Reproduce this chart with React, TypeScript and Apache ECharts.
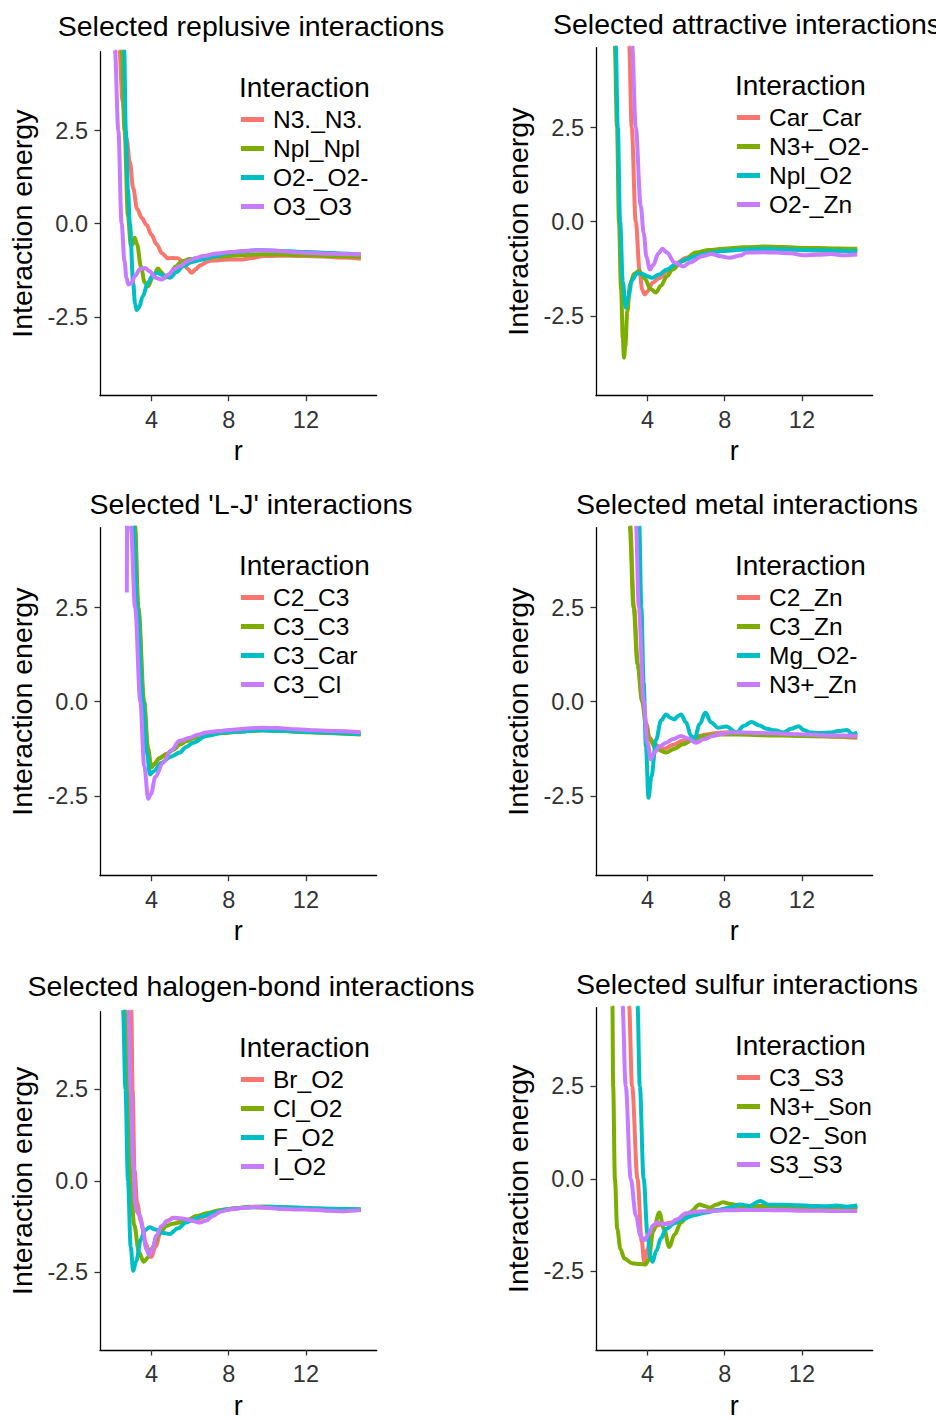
import React, { useEffect, useRef } from "react";
import * as echarts from "echarts";

const COLORS = ["#F8766D", "#7CAE00", "#00BFC4", "#C77CFF"];
const FONT = '"Liberation Sans", Arial, Helvetica, sans-serif';

const panelTitles = [
  "Selected replusive interactions",
  "Selected attractive interactions",
  "Selected 'L-J' interactions",
  "Selected metal interactions",
  "Selected halogen-bond interactions",
  "Selected sulfur interactions",
];
const panelNames = [
  ["N3._N3.", "Npl_Npl", "O2-_O2-", "O3_O3"],
  ["Car_Car", "N3+_O2-", "Npl_O2", "O2-_Zn"],
  ["C2_C3", "C3_C3", "C3_Car", "C3_Cl"],
  ["C2_Zn", "C3_Zn", "Mg_O2-", "N3+_Zn"],
  ["Br_O2", "Cl_O2", "F_O2", "I_O2"],
  ["C3_S3", "N3+_Son", "O2-_Son", "S3_S3"],
];
const xTicks = [4, 8, 12];
const yTicks = [-2.5, 0, 2.5];
const legendTitle = "Interaction";
const xName = "r";
const yName = "Interaction energy";

// Panel 1: replusive
const repN3 = [[2.25,6.5],[2.33,4.7],[2.5,3.3],[2.7,2.3],[2.88,1.65],[3.05,0.95],[3.25,0.4],[3.5,0.15],[3.74,-0.03],[4.0,-0.3],[4.26,-0.55],[4.55,-0.8],[4.86,-0.93],[5.1,-0.92],[5.35,-0.93],[5.64,-1.02],[5.85,-1.2],[6.07,-1.32],[6.3,-1.22],[6.5,-1.12],[7.0,-1.0],[7.5,-0.98],[8.0,-0.96],[8.7,-0.96],[9.2,-0.92],[9.8,-0.87],[10.5,-0.86],[11.2,-0.86],[12.0,-0.87],[12.9,-0.88],[13.8,-0.91],[14.85,-0.94]];
const repNpl = [[2.38,6.5],[2.46,4.7],[2.6,2.5],[2.78,0.2],[2.93,-0.6],[3.02,-0.55],[3.13,-0.38],[3.25,-0.55],[3.45,-1.15],[3.65,-1.58],[3.83,-1.68],[4.05,-1.45],[4.34,-1.2],[4.5,-1.3],[4.69,-1.45],[4.95,-1.35],[5.25,-1.15],[5.55,-1.02],[6.0,-0.95],[6.67,-0.92],[7.4,-0.89],[8.2,-0.86],[9.0,-0.84],[9.8,-0.82],[10.6,-0.83],[11.5,-0.84],[12.4,-0.85],[13.3,-0.87],[14.85,-0.89]];
const repO2 = [[2.5,6.5],[2.58,4.7],[2.67,2.5],[2.78,0.9],[2.88,0.0],[3.05,-1.6],[3.15,-2.15],[3.23,-2.32],[3.35,-2.25],[3.55,-1.95],[3.8,-1.6],[4.05,-1.4],[4.26,-1.32],[4.6,-1.38],[4.95,-1.45],[5.3,-1.3],[5.64,-1.14],[6.1,-1.03],[6.67,-0.96],[7.3,-0.87],[8.04,-0.78],[8.8,-0.74],[9.42,-0.71],[10.2,-0.72],[11.14,-0.74],[12.0,-0.76],[12.86,-0.78],[13.8,-0.8],[14.85,-0.83]];
const repO3 = [[2.0,6.5],[2.1,4.7],[2.28,2.5],[2.45,0.0],[2.6,-1.0],[2.7,-1.45],[2.8,-1.63],[2.95,-1.6],[3.15,-1.4],[3.4,-1.22],[3.66,-1.19],[3.9,-1.28],[4.2,-1.45],[4.52,-1.5],[4.85,-1.38],[5.15,-1.23],[5.46,-1.14],[5.9,-1.0],[6.3,-0.92],[6.67,-0.87],[7.4,-0.8],[8.1,-0.76],[8.8,-0.73],[9.77,-0.71],[10.6,-0.73],[11.49,-0.77],[12.4,-0.79],[13.4,-0.81],[14.85,-0.83]];

// Panel 2: attractive
const attCar = [[2.98,6.5],[3.05,4.7],[3.18,2.5],[3.39,0.0],[3.6,-1.35],[3.72,-1.8],[3.85,-1.93],[4.0,-1.85],[4.26,-1.62],[4.6,-1.5],[5.0,-1.32],[5.5,-1.1],[6.0,-0.96],[6.5,-0.88],[7.04,-0.82],[8.0,-0.76],[8.78,-0.73],[9.6,-0.72],[10.5,-0.73],[11.4,-0.74],[12.26,-0.76],[13.2,-0.77],[14.0,-0.77],[14.87,-0.78]];
const attN3O2 = [[2.22,6.5],[2.3,4.7],[2.42,2.5],[2.52,0.0],[2.63,-1.8],[2.72,-3.1],[2.78,-3.61],[2.85,-3.3],[2.95,-2.4],[3.1,-1.65],[3.3,-1.38],[3.57,-1.31],[3.85,-1.5],[4.15,-1.78],[4.43,-1.88],[4.7,-1.7],[5.0,-1.45],[5.3,-1.27],[5.8,-1.05],[6.52,-0.82],[7.2,-0.75],[7.91,-0.72],[9.0,-0.68],[10.0,-0.66],[11.0,-0.67],[11.74,-0.69],[12.8,-0.7],[13.8,-0.71],[14.87,-0.72]];
const attNplO2 = [[2.27,6.5],[2.35,4.7],[2.46,2.5],[2.58,0.0],[2.72,-1.6],[2.87,-2.28],[3.0,-2.0],[3.2,-1.55],[3.45,-1.37],[3.7,-1.38],[4.0,-1.45],[4.26,-1.49],[4.6,-1.4],[5.0,-1.27],[5.5,-1.12],[6.0,-1.0],[6.52,-0.91],[7.2,-0.83],[7.91,-0.78],[9.0,-0.74],[10.0,-0.72],[11.0,-0.73],[12.26,-0.75],[13.2,-0.76],[14.0,-0.77],[14.87,-0.78]];
const attO2Zn = [[3.12,6.5],[3.2,4.7],[3.39,2.5],[3.65,0.42],[3.8,-0.3],[3.95,-0.95],[4.12,-1.27],[4.3,-1.15],[4.55,-0.85],[4.78,-0.72],[5.0,-0.82],[5.4,-1.08],[5.83,-1.19],[6.2,-1.08],[6.87,-0.91],[7.3,-0.86],[7.8,-0.92],[8.26,-0.96],[8.8,-0.9],[9.13,-0.82],[10.0,-0.81],[10.7,-0.82],[11.4,-0.84],[12.09,-0.89],[12.8,-0.88],[13.5,-0.86],[14.2,-0.89],[14.87,-0.87]];

// Panel 3: L-J
const ljC2C3 = [[3.02,6.5],[3.12,4.7],[3.3,2.5],[3.6,0.0],[3.8,-1.2],[3.97,-1.72],[4.15,-1.65],[4.4,-1.5],[4.8,-1.38],[5.12,-1.27],[5.5,-1.12],[5.8,-1.04],[6.2,-0.96],[6.5,-0.91],[7.0,-0.86],[7.7,-0.82],[8.4,-0.8],[9.0,-0.78],[9.77,-0.75],[10.5,-0.76],[11.2,-0.78],[12.0,-0.8],[13.0,-0.82],[14.0,-0.84],[14.84,-0.85]];
const ljC3C3 = [[3.04,6.5],[3.14,4.7],[3.32,2.5],[3.62,0.0],[3.82,-1.25],[3.99,-1.75],[4.15,-1.66],[4.4,-1.5],[4.8,-1.39],[5.12,-1.28],[5.5,-1.13],[5.8,-1.05],[6.2,-0.97],[6.5,-0.92],[7.0,-0.87],[7.7,-0.83],[8.4,-0.8],[9.0,-0.78],[9.77,-0.76],[10.5,-0.77],[11.2,-0.79],[12.0,-0.81],[13.0,-0.83],[14.0,-0.85],[14.84,-0.87]];
const ljC3Car = [[2.97,6.5],[3.07,4.7],[3.26,2.5],[3.56,0.0],[3.76,-1.35],[3.92,-1.93],[4.1,-1.85],[4.52,-1.62],[5.0,-1.46],[5.46,-1.35],[5.8,-1.2],[6.15,-1.09],[6.84,-0.91],[7.7,-0.82],[8.5,-0.79],[9.5,-0.76],[10.5,-0.77],[11.5,-0.79],[12.5,-0.81],[13.5,-0.83],[14.84,-0.86]];
const ljC3Cl = [[2.72,2.9],[2.75,6.0],[2.82,6.5],[2.92,4.7],[3.15,2.5],[3.42,0.0],[3.62,-1.7],[3.83,-2.58],[3.97,-2.45],[4.2,-2.0],[4.6,-1.62],[5.0,-1.3],[5.46,-1.04],[5.98,-0.96],[6.4,-0.88],[6.84,-0.82],[7.5,-0.78],[8.04,-0.75],[9.0,-0.71],[9.77,-0.69],[10.5,-0.7],[11.49,-0.73],[12.5,-0.76],[13.5,-0.78],[14.84,-0.81]];

// Panel 4: metal
const metC2Zn = [[3.0,6.5],[3.1,4.7],[3.3,2.5],[3.5,1.0],[3.74,0.0],[3.95,-0.6],[4.1,-0.95],[4.4,-1.15],[4.87,-1.25],[5.3,-1.15],[5.83,-1.04],[6.4,-0.95],[7.04,-0.87],[7.6,-0.83],[8.26,-0.81],[9.0,-0.84],[9.65,-0.87],[10.5,-0.88],[11.74,-0.89],[12.6,-0.91],[13.6,-0.93],[14.87,-0.96]];
const metC3Zn = [[2.97,6.5],[3.07,4.7],[3.28,2.5],[3.48,1.0],[3.72,0.0],[3.93,-0.65],[4.1,-1.0],[4.45,-1.25],[4.96,-1.35],[5.4,-1.25],[5.83,-1.13],[6.4,-1.0],[6.87,-0.91],[7.8,-0.87],[8.78,-0.87],[9.8,-0.89],[11.0,-0.9],[12.0,-0.91],[13.0,-0.92],[14.87,-0.93]];
const metMgO2 = [[3.5,6.5],[3.57,4.7],[3.68,2.5],[3.8,0.5],[3.92,-1.2],[4.05,-2.55],[4.2,-2.0],[4.45,-1.0],[4.7,-0.5],[4.96,-0.34],[5.2,-0.43],[5.39,-0.47],[5.6,-0.37],[5.74,-0.34],[6.0,-0.55],[6.25,-0.9],[6.43,-1.0],[6.7,-0.6],[7.0,-0.29],[7.3,-0.55],[7.65,-0.69],[8.09,-0.66],[8.6,-0.82],[9.0,-0.64],[9.39,-0.54],[9.8,-0.63],[10.17,-0.72],[10.6,-0.76],[11.04,-0.82],[11.45,-0.72],[11.83,-0.65],[12.1,-0.75],[12.43,-0.82],[13.0,-0.83],[13.48,-0.82],[13.9,-0.78],[14.35,-0.75],[14.6,-0.86],[14.87,-0.82]];
const metN3Zn = [[3.3,6.5],[3.4,4.7],[3.55,2.5],[3.8,0.0],[4.0,-1.1],[4.17,-1.53],[4.35,-1.35],[4.6,-1.2],[4.96,-1.09],[5.3,-1.0],[5.74,-0.91],[6.1,-0.98],[6.52,-1.09],[6.9,-1.0],[7.39,-0.91],[7.8,-0.86],[8.26,-0.82],[9.0,-0.82],[9.8,-0.83],[10.6,-0.84],[11.4,-0.86],[12.2,-0.87],[13.0,-0.89],[14.0,-0.9],[14.87,-0.91]];

// Panel 5: halogen-bond
const halBr = [[2.87,6.5],[2.95,4.7],[3.02,2.5],[3.12,0.3],[3.25,-0.6],[3.45,-1.1],[3.7,-1.7],[3.9,-2.02],[4.0,-2.08],[4.2,-1.8],[4.52,-1.32],[4.8,-1.1],[5.12,-1.01],[5.5,-1.05],[5.98,-1.1],[6.4,-1.05],[6.84,-0.96],[7.3,-0.86],[7.7,-0.79],[8.4,-0.74],[9.08,-0.71],[9.8,-0.73],[10.45,-0.74],[11.2,-0.75],[12.0,-0.77],[13.0,-0.78],[14.0,-0.78],[14.84,-0.78]];
const halCl = [[2.55,6.5],[2.63,4.7],[2.75,2.5],[2.92,0.0],[3.1,-1.2],[3.35,-1.95],[3.6,-2.21],[3.8,-2.1],[4.0,-1.85],[4.4,-1.45],[4.77,-1.23],[5.1,-1.17],[5.46,-1.14],[5.9,-1.06],[6.32,-0.96],[6.9,-0.88],[7.5,-0.8],[8.2,-0.76],[9.0,-0.72],[9.77,-0.7],[10.6,-0.72],[11.5,-0.74],[12.5,-0.76],[13.5,-0.77],[14.84,-0.78]];
const halF = [[2.45,6.5],[2.52,4.7],[2.65,2.5],[2.78,0.0],[2.92,-1.8],[3.05,-2.46],[3.2,-2.2],[3.45,-1.6],[3.65,-1.35],[3.91,-1.27],[4.2,-1.33],[4.55,-1.42],[4.95,-1.45],[5.35,-1.3],[5.8,-1.14],[6.2,-1.04],[6.67,-0.96],[7.2,-0.87],[7.87,-0.78],[8.6,-0.74],[9.4,-0.72],[10.2,-0.71],[11.0,-0.72],[12.0,-0.74],[13.0,-0.76],[14.0,-0.77],[14.84,-0.78]];
const halI = [[2.72,6.5],[2.8,4.7],[2.92,2.5],[3.05,0.5],[3.15,-0.6],[3.25,-0.85],[3.4,-0.96],[3.55,-1.3],[3.72,-1.85],[3.88,-2.03],[4.05,-1.85],[4.25,-1.5],[4.52,-1.23],[4.85,-1.08],[5.2,-1.01],[5.5,-1.02],[5.8,-1.05],[6.15,-1.1],[6.5,-1.14],[6.85,-1.08],[7.18,-0.96],[7.6,-0.84],[8.04,-0.78],[8.7,-0.74],[9.42,-0.71],[10.1,-0.74],[10.8,-0.77],[11.6,-0.78],[12.4,-0.79],[13.2,-0.82],[13.9,-0.83],[14.4,-0.82],[14.84,-0.8]];

// Panel 6: sulfur
const sulC3S3 = [[2.97,6.5],[3.04,4.7],[3.2,2.5],[3.48,0.0],[3.7,-1.7],[3.83,-2.24],[4.0,-1.9],[4.2,-1.45],[4.43,-1.27],[4.8,-1.22],[5.3,-1.18],[5.7,-1.08],[6.17,-1.0],[6.7,-0.92],[7.22,-0.87],[8.0,-0.83],[8.8,-0.79],[9.4,-0.76],[9.83,-0.73],[10.5,-0.75],[11.5,-0.77],[12.5,-0.78],[13.5,-0.78],[14.87,-0.79]];
const sulN3Son = [[2.12,6.5],[2.18,4.7],[2.22,2.5],[2.31,0.0],[2.43,-1.35],[2.6,-1.9],[2.8,-2.15],[3.2,-2.28],[3.6,-2.3],[3.9,-2.31],[4.05,-2.2],[4.3,-1.4],[4.61,-0.91],[4.85,-1.35],[5.13,-1.84],[5.4,-1.5],[5.74,-1.18],[6.2,-0.9],[6.7,-0.69],[7.0,-0.74],[7.22,-0.78],[7.55,-0.7],[7.91,-0.63],[8.3,-0.68],[8.78,-0.73],[9.5,-0.74],[10.5,-0.73],[11.5,-0.74],[12.5,-0.75],[13.5,-0.76],[14.87,-0.76]];
const sulO2Son = [[3.42,6.5],[3.48,4.7],[3.6,2.5],[3.8,0.0],[4.0,-1.5],[4.15,-2.1],[4.26,-2.24],[4.45,-1.95],[4.7,-1.6],[4.96,-1.35],[5.4,-1.2],[5.83,-1.09],[6.4,-0.98],[7.04,-0.91],[7.6,-0.84],[8.26,-0.78],[8.78,-0.69],[9.3,-0.73],[9.83,-0.6],[10.3,-0.7],[11.0,-0.7],[11.8,-0.71],[12.5,-0.73],[13.2,-0.74],[13.8,-0.72],[14.3,-0.75],[14.87,-0.72]];
const sulS3S3 = [[2.63,6.5],[2.7,4.7],[2.87,2.5],[3.13,0.0],[3.4,-1.0],[3.65,-1.55],[3.83,-1.66],[4.05,-1.5],[4.3,-1.25],[4.52,-1.18],[4.85,-1.22],[5.13,-1.22],[5.5,-1.1],[6.0,-0.93],[6.6,-0.88],[7.3,-0.87],[8.0,-0.85],[9.0,-0.84],[10.0,-0.84],[11.0,-0.85],[12.0,-0.86],[13.0,-0.86],[14.0,-0.87],[14.87,-0.87]];

const panelData = [
  [repN3, repNpl, repO2, repO3],
  [attCar, attN3O2, attNplO2, attO2Zn],
  [ljC2C3, ljC3C3, ljC3Car, ljC3Cl],
  [metC2Zn, metC3Zn, metMgO2, metN3Zn],
  [halBr, halCl, halF, halI],
  [sulC3S3, sulN3Son, sulO2Son, sulS3S3],
];
// whether the panel title has descenders (ggplot gives it a taller title row)
const titleDesc = [true, false, false, false, true, false];

function buildOption() {
  const grid: any[] = [];
  const xAxis: any[] = [];
  const yAxis: any[] = [];
  const series: any[] = [];
  const legend: any[] = [];
  const graphic: any[] = [];

  for (let i = 0; i < 6; i++) {
    const ox = (i % 2) * 496;
    const oy = Math.floor(i / 2) * 480;
    const d = titleDesc[i];
    const top = oy + (d ? 51.7 : 47.7);
    const bottom = oy + 395.7;
    grid.push({ left: 100 + ox, top, width: 276.7, height: bottom - top });

    xAxis.push({
      type: "value",
      gridIndex: i,
      min: 1.33,
      max: 15.67,
      name: xName,
      nameLocation: "middle",
      nameGap: 42,
      nameTextStyle: { fontSize: 27, color: "#000", fontFamily: FONT },
      axisLine: { show: true, onZero: false, lineStyle: { color: "#000", width: 1.3 } },
      axisTick: { show: true, length: 5.5, customValues: xTicks, lineStyle: { color: "#333", width: 1.3 } },
      axisLabel: { customValues: xTicks, fontSize: 23.5, color: "#333", margin: 12, fontFamily: FONT },
      splitLine: { show: false },
    });
    yAxis.push({
      type: "value",
      gridIndex: i,
      min: -4.62,
      max: 4.62,
      name: yName,
      nameLocation: "middle",
      nameGap: 64,
      nameTextStyle: { fontSize: 28.5, color: "#000", fontFamily: FONT },
      axisLine: { show: true, onZero: false, lineStyle: { color: "#000", width: 1.3 } },
      axisTick: { show: true, length: 5.5, customValues: yTicks, lineStyle: { color: "#333", width: 1.3 } },
      axisLabel: {
        customValues: yTicks,
        fontSize: 23.5,
        color: "#333",
        margin: 12,
        fontFamily: FONT,
        formatter: (v: number) => v.toFixed(1),
      },
      splitLine: { show: false },
    });

    panelNames[i].forEach((name, j) => {
      series.push({
        type: "line",
        name,
        xAxisIndex: i,
        yAxisIndex: i,
        data: panelData[i][j],
        color: COLORS[j],
        showSymbol: false,
        symbol: "none",
        smooth: 0.35,
        smoothMonotone: "x",
        clip: true,
        silent: true,
        lineStyle: { width: 4, color: COLORS[j] },
        itemStyle: { color: COLORS[j] },
      });
    });

    const itemCenter = oy + (d ? 119 : 117);
    legend.push({
      data: panelNames[i],
      orient: "vertical",
      left: 236 + ox,
      top: itemCenter - 17,
      padding: 5,
      icon: "rect",
      itemWidth: 23,
      itemHeight: 5,
      itemGap: 4,
      selectedMode: false,
      textStyle: { fontSize: 24.5, lineHeight: 23, color: "#000", fontFamily: FONT, padding: [0, 0, 0, 4] },
    });

    graphic.push({
      type: "text",
      x: 251 + ox,
      y: oy + (d ? 25.8 : 24.2),
      style: {
        text: panelTitles[i],
        fontSize: 28.5,
        fontFamily: FONT,
        fill: "#000",
        align: "center",
        verticalAlign: "middle",
      },
    });
    graphic.push({
      type: "text",
      x: 239 + ox,
      y: oy + (d ? 87 : 85),
      style: {
        text: legendTitle,
        fontSize: 28,
        fontFamily: FONT,
        fill: "#000",
        align: "left",
        verticalAlign: "middle",
      },
    });
  }

  return {
    animation: false,
    backgroundColor: "#fff",
    grid,
    xAxis,
    yAxis,
    series,
    legend,
    graphic,
  };
}

export default function App() {
  const ref = useRef<HTMLDivElement>(null);
  useEffect(() => {
    document.body.style.margin = "0";
    const chart = echarts.init(ref.current as HTMLDivElement, null, { renderer: "svg" });
    chart.setOption(buildOption() as any);
    return () => chart.dispose();
  }, []);
  return <div ref={ref} style={{ width: 936, height: 1420 }} />;
}
